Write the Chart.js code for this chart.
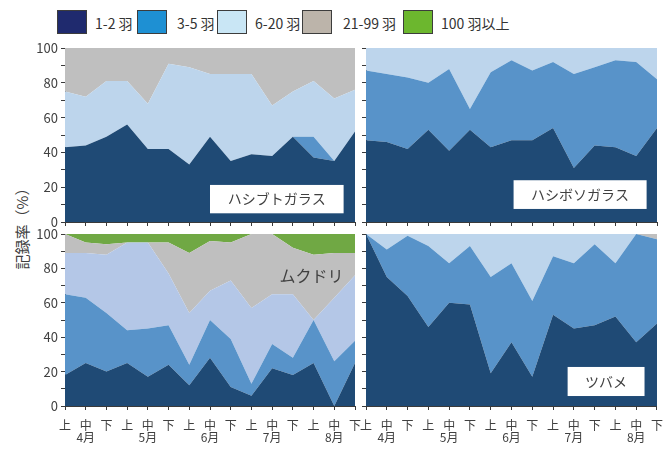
<!DOCTYPE html>
<html lang="ja">
<head>
<meta charset="utf-8">
<title>記録率</title>
<script src="https://cdn.jsdelivr.net/npm/chart.js@4.4.1/dist/chart.umd.min.js"></script>
<style>
  html, body { margin: 0; padding: 0; background: #fff; }
  #wrap { position: relative; width: 672px; height: 452px; overflow: hidden; font-family: "Noto Sans CJK JP", sans-serif; }
  #wrap canvas { position: absolute; left: 0; top: 0; }
  .lg-box { position: absolute; top: 10px; width: 28px; height: 22px; border: 1.5px solid #3c3c3c; }
  .lg-text { position: absolute; top: 11px; height: 24px; line-height: 24px; font-size: 14px; color: #333;
             font-family: "Liberation Sans Narrow", "Noto Sans CJK JP", sans-serif; white-space: nowrap; }
  #ytitle { position: absolute; left: 21px; top: 225px; transform: translate(-50%, -50%) rotate(-90deg);
            font-size: 15px; color: #404040; white-space: nowrap; }
</style>
</head>
<body>
<div id="wrap">
  <div id="legend"></div>
  <div id="ytitle">記録率（%）</div>
  <canvas id="c1" width="672" height="452"></canvas>
  <canvas id="c2" width="672" height="452"></canvas>
  <canvas id="c3" width="672" height="452"></canvas>
  <canvas id="c4" width="672" height="452"></canvas>
</div>
<script>
// 旬（上・中・下）と月
const periods = ['上', '中', '下'];
const months = ['4月', '5月', '6月', '7月', '8月'];
const seriesNames = ['1-2 羽', '3-5 羽', '6-20 羽', '21-99 羽', '100 羽以上'];

// ハシブトガラス（%）
const hashibuto12   = [43, 44, 49, 56, 42, 42, 33, 49, 35, 39, 38, 49, 37, 35, 52];
const hashibuto35   = [0, 0, 0, 0, 0, 0, 0, 0, 0, 0, 0, 0, 12, 0, 0];
const hashibuto620  = [32, 28, 32, 25, 26, 49, 56, 36, 50, 46, 29, 26, 32, 36, 24];
const hashibuto2199 = [25, 28, 19, 19, 32, 9, 11, 15, 15, 15, 33, 25, 19, 29, 24];
const hashibuto100  = [0, 0, 0, 0, 0, 0, 0, 0, 0, 0, 0, 0, 0, 0, 0];

// ハシボソガラス（%）
const hashiboso12   = [47, 46, 42, 53, 41, 53, 43, 47, 47, 54, 31, 44, 43, 38, 54];
const hashiboso35   = [40, 39, 41, 27, 47, 12, 43, 46, 40, 38, 54, 45, 50, 54, 28];
const hashiboso620  = [13, 15, 17, 20, 12, 35, 14, 7, 13, 8, 15, 11, 7, 8, 18];
const hashiboso2199 = [0, 0, 0, 0, 0, 0, 0, 0, 0, 0, 0, 0, 0, 0, 0];
const hashiboso100  = [0, 0, 0, 0, 0, 0, 0, 0, 0, 0, 0, 0, 0, 0, 0];

// ムクドリ（%）
const mukudori12   = [18, 25, 20, 25, 17, 24, 12, 28, 11, 6, 22, 18, 25, 0, 25];
const mukudori35   = [47, 38, 34, 19, 28, 23, 12, 22, 28, 7, 14, 10, 25, 26, 13];
const mukudori620  = [24, 26, 34, 51, 50, 30, 30, 17, 34, 44, 29, 37, 0, 37, 38];
const mukudori2199 = [11, 6, 6, 0, 0, 18, 35, 29, 22, 43, 35, 27, 38, 26, 13];
const mukudori100  = [0, 5, 6, 5, 5, 5, 11, 4, 5, 0, 0, 8, 12, 11, 11];

// ツバメ（%）
const tsubame12   = [100, 75, 64, 46, 60, 59, 19, 37, 17, 53, 45, 47, 52, 37, 48];
const tsubame35   = [0, 16, 35, 47, 23, 34, 56, 46, 44, 34, 38, 47, 31, 63, 49];
const tsubame620  = [0, 9, 1, 7, 17, 7, 25, 17, 39, 13, 17, 6, 17, 0, 0];
const tsubame2199 = [0, 0, 0, 0, 0, 0, 0, 0, 0, 0, 0, 0, 0, 0, 3];
const tsubame100  = [0, 0, 0, 0, 0, 0, 0, 0, 0, 0, 0, 0, 0, 0, 0];

// x 軸ラベル：1 行目に旬、2 行目（中の下）に月
const xLabels = [];
months.forEach(m => periods.forEach((p, j) => xLabels.push([p, j === 1 ? m : ''])));

// 凡例の色とグラフの塗り色
const legendColors = ['#1f2a6e', '#1e90d3', '#c9e6f5', '#bcb4aa', '#6cb72e'];
const fillColors   = ['#1f4a75', '#5893c9', '#bdd5ec', '#bfbfbf', '#70a844'];

// 凡例（HTML）
const legendEl = document.getElementById('legend');
const legendBoxX  = [57, 137, 217, 302, 403];
const legendTextX = [95, 177, 255, 343, 441];
seriesNames.forEach((name, i) => {
  const b = document.createElement('div');
  b.className = 'lg-box';
  b.style.left = legendBoxX[i] + 'px';
  b.style.background = legendColors[i];
  legendEl.appendChild(b);
  const t = document.createElement('div');
  t.className = 'lg-text';
  t.style.left = legendTextX[i] + 'px';
  t.textContent = name;
  legendEl.appendChild(t);
});

// 種名ラベル（白枠付き / 枠なし）
const speciesTag = {
  id: 'speciesTag',
  afterDatasetsDraw(chart, args, o) {
    const { ctx, scales: { x, y } } = chart;
    ctx.save();
    ctx.font = o.size + 'px "Noto Sans CJK JP", sans-serif';
    ctx.textAlign = 'center';
    ctx.textBaseline = 'middle';
    let cx, cy;
    if (o.box) {
      const l = x.getPixelForValue(o.x0), r = x.getPixelForValue(o.x1);
      const t = y.getPixelForValue(o.y1), b = y.getPixelForValue(o.y0);
      ctx.fillStyle = '#ffffff';
      ctx.fillRect(l, t, r - l, b - t);
      cx = (l + r) / 2; cy = (t + b) / 2;
    } else {
      cx = x.getPixelForValue(o.cx); cy = y.getPixelForValue(o.cy);
    }
    ctx.fillStyle = '#404040';
    ctx.fillText(o.text, cx, cy);
    ctx.restore();
  }
};

const W = 672, H = 452;
const panels = [
  { id: 'c1', series: [hashibuto12, hashibuto35, hashibuto620, hashibuto2199, hashibuto100],
    area: { left: 65, top: 48, right: 355, bottom: 222 }, yLabels: true, xLabels: false,
    tag: { text: 'ハシブトガラス', box: true, x0: 7, x1: 13.45, y0: 5, y1: 21.3, size: 14 } },
  { id: 'c2', series: [hashiboso12, hashiboso35, hashiboso620, hashiboso2199, hashiboso100],
    area: { left: 366, top: 48, right: 657, bottom: 222 }, yLabels: false, xLabels: false,
    tag: { text: 'ハシボソガラス', box: true, x0: 7.1, x1: 13.5, y0: 7.5, y1: 24, size: 14 } },
  { id: 'c3', series: [mukudori12, mukudori35, mukudori620, mukudori2199, mukudori100],
    area: { left: 65, top: 234, right: 355, bottom: 406 }, yLabels: true, xLabels: true,
    light: '#b4c7e7',
    tag: { text: 'ムクドリ', box: false, cx: 11.9, cy: 75.5, size: 16 } },
  { id: 'c4', series: [tsubame12, tsubame35, tsubame620, tsubame2199, tsubame100],
    area: { left: 366, top: 234, right: 657, bottom: 406 }, yLabels: false, xLabels: true,
    tag: { text: 'ツバメ', box: true, x0: 9.7, x1: 13.4, y0: 5.8, y1: 22.7, size: 14 } }
];

const axisColor = '#3a3a3a';
const textColor = '#404040';

panels.forEach(p => {
  const yW = p.yLabels ? 35 : 6;
  const xH = p.xLabels ? 46 : 6;
  const colors = fillColors.slice();
  if (p.light) colors[2] = p.light;

  new Chart(document.getElementById(p.id), {
    type: 'line',
    data: {
      labels: xLabels,
      datasets: p.series.map((values, i) => ({
        label: seriesNames[i],
        data: values,
        backgroundColor: colors[i],
        borderColor: colors[i],
        borderWidth: 0,
        pointRadius: 0,
        tension: 0,
        fill: i === 0 ? 'origin' : '-1'
      }))
    },
    options: {
      responsive: false,
      animation: false,
      events: [],
      layout: { padding: { left: p.area.left - yW, top: p.area.top, right: W - p.area.right, bottom: H - p.area.bottom - xH } },
      plugins: { legend: { display: false }, tooltip: { enabled: false }, speciesTag: p.tag },
      scales: {
        x: {
          offset: false,
          grid: { drawOnChartArea: false, offset: false, tickLength: 4, color: axisColor },
          border: { display: true, color: axisColor, width: 1 },
          ticks: {
            autoSkip: false, maxRotation: 0, minRotation: 0, padding: 9, color: textColor,
            font: { family: '"Noto Sans CJK JP", sans-serif', size: 12, lineHeight: 1 },
            callback(v, i) { return p.xLabels ? xLabels[i] : ''; }
          },
          afterFit(s) { s.height = xH; }
        },
        y: {
          stacked: true, min: 0, max: 100,
          grid: { drawOnChartArea: false, tickLength: 4, color: axisColor },
          border: { display: true, color: axisColor, width: 1 },
          ticks: {
            stepSize: 10, autoSkip: false, padding: 3, color: textColor,
            font: { family: '"Noto Sans CJK JP", sans-serif', size: 13 },
            callback(v) { return p.yLabels && v % 20 === 0 ? v : ''; }
          },
          afterFit(s) { s.width = yW; }
        }
      }
    },
    plugins: [speciesTag]
  });
});
</script>
</body>
</html>
